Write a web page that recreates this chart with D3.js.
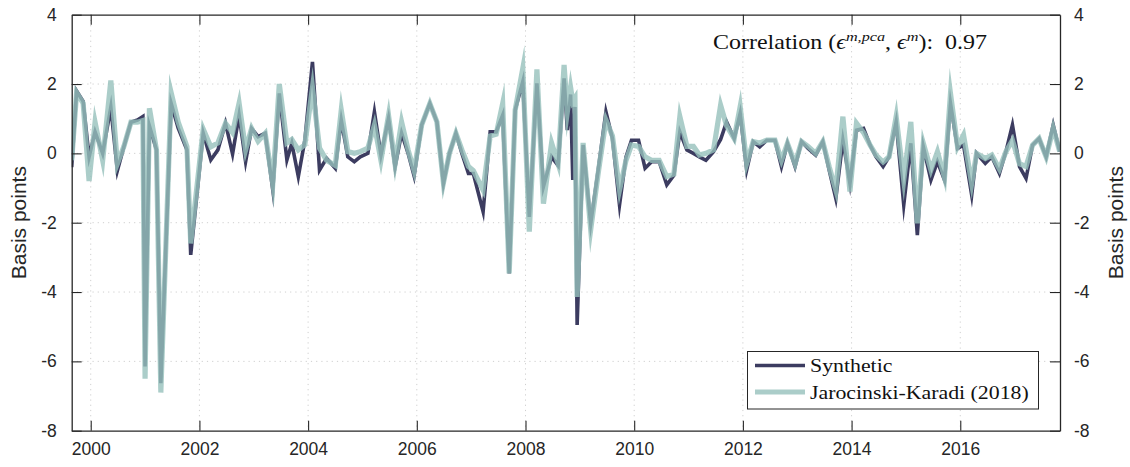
<!DOCTYPE html>
<html><head><meta charset="utf-8">
<script src="https://cdn.jsdelivr.net/npm/d3@7"></script>
<style>
html,body{margin:0;padding:0;background:#fff;}
svg{display:block;}
</style></head>
<body>
<svg id="chart" width="1130" height="467"></svg>
<script>
const dates = [1999.65,1999.74,1999.86,1999.97,2000.08,2000.22,2000.37,2000.49,2000.61,2000.74,2000.86,2000.96,2001.00,2001.08,2001.21,2001.29,2001.48,2001.61,2001.77,2001.84,
2002.07,2002.21,2002.34,2002.48,2002.61,2002.73,2002.85,2002.96,2003.08,2003.21,2003.35,2003.47,2003.61,2003.70,2003.82,2003.94,
2004.08,2004.21,2004.34,2004.50,2004.61,2004.73,2004.85,2004.96,2005.10,2005.22,2005.34,2005.48,2005.60,2005.72,2005.84,2005.95,
2006.09,2006.24,2006.37,2006.49,2006.60,2006.72,2006.83,2006.95,2007.04,2007.22,2007.35,2007.46,2007.58,2007.70,2007.81,2007.95,
2008.07,2008.21,2008.33,2008.48,2008.60,2008.71,2008.77,2008.83,2008.87,2008.91,2008.95,2009.06,2009.20,2009.34,2009.48,2009.60,2009.73,2009.85,2009.95,
2010.08,2010.20,2010.32,2010.46,2010.60,2010.73,2010.84,2010.97,2011.09,2011.20,2011.32,2011.46,2011.59,2011.70,2011.84,2011.95,
2012.07,2012.19,2012.31,2012.44,2012.59,2012.71,2012.82,2012.96,2013.08,2013.20,2013.34,2013.47,2013.59,2013.71,2013.84,2013.97,
2014.09,2014.22,2014.34,2014.45,2014.58,2014.69,2014.82,2014.96,2015.09,2015.21,2015.32,2015.46,2015.58,2015.71,2015.82,2015.95,
2016.06,2016.21,2016.30,2016.46,2016.58,2016.72,2016.84,2016.96,2017.09,2017.21,2017.33,2017.45,2017.58,2017.71,2017.83];

const synthetic = [-0.4,1.8,1.5,-0.1,0.62,0.0,1.33,-0.5,0.19,0.9,0.96,1.06,-6.15,0.79,0.1,-6.63,1.44,0.73,0.1,-2.93,
0.58,-0.19,0.1,0.87,-0.02,1.1,-0.24,0.72,0.48,0.58,-1.06,1.73,-0.19,0.29,-0.67,0.38,
2.64,-0.48,-0.14,-0.43,0.96,-0.1,-0.24,-0.1,0.0,1.2,-0.05,1.01,-0.39,0.58,0.0,-0.65,
0.82,1.44,0.91,-0.87,0.0,0.58,0.0,-0.58,-0.58,-1.68,0.62,0.62,1.1,-3.46,1.25,2.07,
-1.83,2.02,-0.96,-0.1,-0.35,2.16,0.67,1.7,-0.77,1.34,-4.95,0.24,-2.02,-0.45,1.2,0.43,-1.49,-0.1,0.38,
0.38,-0.43,-0.24,-0.24,-0.91,-0.63,0.62,0.1,0.0,-0.1,-0.2,0.05,0.4,0.91,0.43,1.15,
-0.48,0.34,0.19,0.38,0.38,-0.38,0.29,-0.38,0.34,0.14,-0.05,0.34,-0.5,-1.3,0.38,-0.87,
0.67,0.72,0.24,-0.1,-0.38,-0.1,0.91,-1.49,0.29,-2.36,0.19,-0.77,-0.24,-0.77,1.44,0.14,
0.24,-1.2,0.0,-0.29,-0.1,-0.58,0.05,0.82,-0.38,-0.72,0.24,0.43,-0.1,0.82,0.05];

const jk = [-0.2,1.75,1.45,-0.8,0.9,-0.2,2.1,-0.3,0.2,0.9,0.9,0.95,-6.5,1.3,0.1,-6.9,1.75,0.9,0.2,-2.6,
0.7,0.19,0.3,0.87,0.6,1.45,0.1,0.72,0.35,0.58,-0.87,2.0,0.3,0.4,0.1,0.25,
1.9,0.15,-0.2,-0.35,1.25,0.05,0.0,0.05,0.15,0.82,-0.2,1.1,-0.3,0.91,0.1,-0.5,
0.82,1.44,0.91,-0.85,0.0,0.58,0.1,-0.38,-0.5,-1.06,0.5,0.55,1.44,-3.46,1.25,2.45,
-2.26,2.42,-1.45,0.3,-0.3,2.55,1.2,1.9,1.5,1.6,-4.14,0.3,-2.2,-0.55,0.96,0.5,-1.06,-0.2,0.24,
0.2,-0.1,-0.2,-0.2,-0.67,-0.6,1.06,0.2,0.2,-0.05,0.0,0.1,1.39,0.8,0.43,1.35,
-0.29,0.34,0.3,0.38,0.38,-0.2,0.29,-0.3,0.34,0.2,0.0,0.34,-0.4,-1.06,1.06,-1.1,
0.87,0.6,0.24,-0.05,-0.25,-0.1,1.06,-0.77,0.91,-2.02,0.29,-0.48,0.05,-0.7,1.73,0.19,
0.53,-0.87,0.0,-0.15,-0.05,-0.45,0.05,0.38,-0.3,-0.38,0.24,0.43,-0.1,0.72,0.05];

const xTicks = [2000,2002,2004,2006,2008,2010,2012,2014,2016];
const yTicks = [-8,-6,-4,-2,0,2,4];
const seriesNames = ["Synthetic","Jarocinski-Karadi (2018)"];
const correlationValue = "0.97";

const svg = d3.select("#chart");
const L = 71.7, R = 1060, T = 14.7, B = 430.7;
const x = d3.scaleLinear().domain([1999.65, 2017.835]).range([L, R]);
const y = d3.scaleLinear().domain([-8, 4]).range([B, T]);

const axisColor = "#262626";
const sans = "'Liberation Sans', Arial, Helvetica, sans-serif";
const serif = "'Liberation Serif', 'DejaVu Serif', 'Times New Roman', serif";

// grid
const grid = svg.append("g");
grid.selectAll("line.vx").data(xTicks).join("line")
  .attr("x1", d => x(d)).attr("x2", d => x(d)).attr("y1", T).attr("y2", B)
  .attr("stroke", "#cfcfcf").attr("stroke-width", 1).attr("stroke-dasharray", "1.2,4");
grid.selectAll("line.hy").data(yTicks.filter(d => d > -8 && d < 4)).join("line")
  .attr("x1", L).attr("x2", R).attr("y1", d => y(d)).attr("y2", d => y(d))
  .attr("stroke", "#cfcfcf").attr("stroke-width", 1).attr("stroke-dasharray", "1.2,4");

// lines
const data = dates.map((d, i) => ({d, s: synthetic[i], j: jk[i]}));
const clipId = "clipPlot";
svg.append("clipPath").attr("id", clipId).append("rect")
  .attr("x", L).attr("y", T).attr("width", R - L).attr("height", B - T);
const plot = svg.append("g").attr("clip-path", `url(#${clipId})`);
const lineS = d3.line().x(d => x(d.d)).y(d => y(d.s));
const lineJ = d3.line().x(d => x(d.d)).y(d => y(d.j));
const darkCol = "#3c3c60";
const lightCol = "rgb(150,192,188)";
plot.append("path").datum(data).attr("d", lineS)
  .attr("fill", "none").attr("stroke", darkCol).attr("stroke-width", 3.6)
  .attr("stroke-linejoin", "miter").attr("stroke-miterlimit", 10);
plot.append("path").datum(data).attr("d", lineJ)
  .attr("fill", "none").attr("stroke", lightCol).attr("stroke-opacity", 0.8).attr("stroke-width", 5.2)
  .attr("stroke-linejoin", "miter").attr("stroke-miterlimit", 10);

// axes
const tickLen = 10;
const axB = svg.append("g").attr("transform", `translate(0,${B})`)
  .call(d3.axisBottom(x).tickValues(xTicks).tickFormat(d3.format("d")).tickSizeInner(-tickLen).tickSizeOuter(0).tickPadding(12));
const axT = svg.append("g").attr("transform", `translate(0,${T})`)
  .call(d3.axisTop(x).tickValues(xTicks).tickFormat("").tickSizeInner(-tickLen).tickSizeOuter(0));
const axL = svg.append("g").attr("transform", `translate(${L},0)`)
  .call(d3.axisLeft(y).tickValues(yTicks).tickFormat(d3.format("d")).tickSizeInner(-tickLen).tickSizeOuter(0).tickPadding(15));
const axR = svg.append("g").attr("transform", `translate(${R},0)`)
  .call(d3.axisRight(y).tickValues(yTicks).tickFormat(d3.format("d")).tickSizeInner(-tickLen).tickSizeOuter(0).tickPadding(14));
[axB, axT, axL, axR].forEach(a => {
  a.select(".domain").attr("stroke", axisColor).attr("stroke-width", 1.3);
  a.selectAll(".tick line").attr("stroke", axisColor).attr("stroke-width", 1.1);
  a.selectAll(".tick text").attr("fill", axisColor).style("font-family", sans).style("font-size", "17.5px");
});
axL.selectAll(".tick text").text(d => d < 0 ? "-" + Math.abs(d) : d);
axR.selectAll(".tick text").text(d => d < 0 ? "-" + Math.abs(d) : d);

// axis titles
svg.append("text").attr("transform", `translate(26,${(T + B) / 2}) rotate(-90)`)
  .attr("text-anchor", "middle").attr("fill", axisColor)
  .style("font-family", sans).style("font-size", "21px").text("Basis points");
svg.append("text").attr("transform", `translate(1123,${(T + B) / 2}) rotate(-90)`)
  .attr("text-anchor", "middle").attr("fill", axisColor)
  .style("font-family", sans).style("font-size", "21px").text("Basis points");

// correlation annotation (Computer-Modern-like width via horizontal stretch)
const annG = svg.append("g").attr("transform", "translate(713,48.5) scale(1.2,1)");
const ann = annG.append("text").attr("x", 0).attr("y", 0).attr("fill", "#111")
  .style("font-family", serif).style("font-size", "20px");
ann.append("tspan").text("Correlation (");
ann.append("tspan").style("font-style", "italic").text("ϵ");
ann.append("tspan").attr("dy", -8).style("font-size", "13.5px").style("font-style", "italic").text("m,pca");
ann.append("tspan").attr("dy", 8).text(", ");
ann.append("tspan").style("font-style", "italic").text("ϵ");
ann.append("tspan").attr("dy", -8).style("font-size", "13.5px").style("font-style", "italic").text("m");
ann.append("tspan").attr("dy", 8).text("):\u2002" + correlationValue);

// legend
const lg = svg.append("g");
lg.append("rect").attr("x", 747.5).attr("y", 351.5).attr("width", 291).attr("height", 57.5)
  .attr("fill", "#fff").attr("stroke", "#262626").attr("stroke-width", 1);
const legItems = [
  {name: seriesNames[0], color: darkCol, w: 3.4, op: 1},
  {name: seriesNames[1], color: lightCol, w: 5.2, op: 0.8}
];
legItems.forEach((it, i) => {
  const cy = 365.5 + i * 26.5;
  lg.append("line").attr("x1", 755).attr("x2", 805).attr("y1", cy).attr("y2", cy)
    .attr("stroke", it.color).attr("stroke-opacity", it.op).attr("stroke-width", it.w);
  lg.append("g").attr("transform", `translate(810,${cy + 6.5}) scale(1.12,1)`)
    .append("text").attr("x", 0).attr("y", 0).attr("fill", "#111")
    .style("font-family", serif).style("font-size", "19.5px").text(it.name);
});
</script>
</body></html>
